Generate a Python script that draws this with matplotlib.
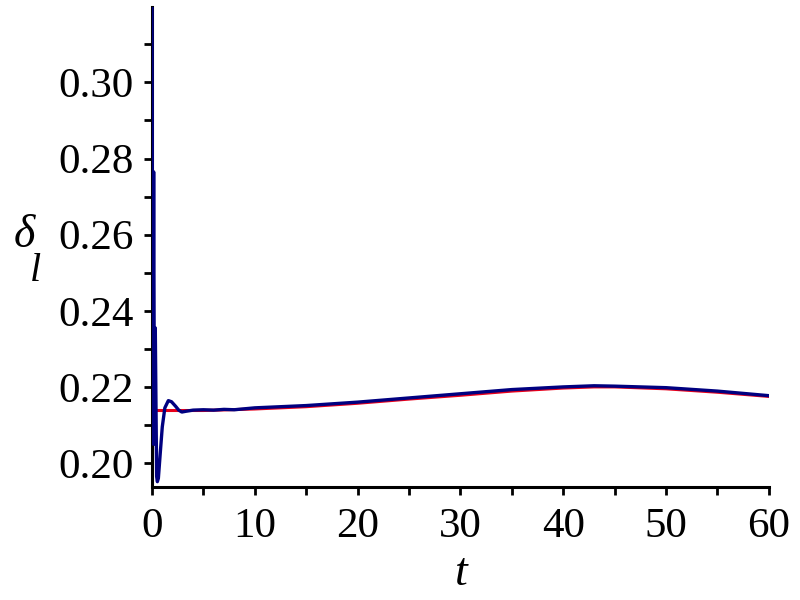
import matplotlib
matplotlib.use("Agg")
import matplotlib.pyplot as plt
from matplotlib.ticker import MultipleLocator, FormatStrFormatter

# Red curve (smooth reference)
t_red = [0, 5, 10, 15, 20, 25, 30, 35, 40, 43, 45, 50, 55, 60]
y_red = [0.2138, 0.2138, 0.2142, 0.2148, 0.2157, 0.2168, 0.2178, 0.2189, 0.2197,
         0.2200, 0.2200, 0.2195, 0.2186, 0.2175]

# Blue curve (with initial transient)
t_blue = [0, 0.08, 0.16, 0.24, 0.32, 0.45, 0.52, 0.62, 0.8, 1.0, 1.25, 1.59, 1.9,
          2.3, 2.6, 2.9, 3.3, 4, 5, 6, 7, 8,
          10, 15, 20, 25, 30, 35, 40, 43, 45, 50, 55, 60]
y_blue = [0.3195, 0.205, 0.2765, 0.205, 0.2355, 0.1965, 0.1951, 0.1960, 0.2025,
          0.2095, 0.2145, 0.2164, 0.2161, 0.2149, 0.2139, 0.2134, 0.2136, 0.2139,
          0.2140, 0.2139, 0.2141, 0.2140,
          0.2145, 0.2151, 0.2160, 0.2171, 0.2182, 0.2193, 0.2200, 0.2203, 0.2202,
          0.2198, 0.2189, 0.2177]

fig = plt.figure(figsize=(8, 6), dpi=100)
ax = fig.add_axes([0.19, 0.1883, 0.771, 0.80])

ax.plot(t_red, y_red, color="#e8001a", lw=2.2, zorder=2)
ax.plot(t_blue, y_blue, color="#000080", lw=2.4, zorder=3)

ax.set_xlim(0, 60)
ax.set_ylim(0.1937, 0.3198)

for s in ["top", "right"]:
    ax.spines[s].set_visible(False)
for s in ["left", "bottom"]:
    ax.spines[s].set_linewidth(2.2)
    ax.spines[s].set_color("black")

ax.xaxis.set_major_locator(MultipleLocator(10))
ax.xaxis.set_minor_locator(MultipleLocator(5))
ax.yaxis.set_major_locator(MultipleLocator(0.02))
ax.yaxis.set_minor_locator(MultipleLocator(0.01))
ax.yaxis.set_major_formatter(FormatStrFormatter("%.2f"))
ax.xaxis.set_major_formatter(FormatStrFormatter("%d"))

ax.tick_params(which="both", direction="out", length=6, width=2, color="black")
ax.tick_params(axis="y", which="major", labelsize=31, pad=7)
ax.tick_params(axis="x", which="major", labelsize=31, pad=9)
for lab in ax.get_xticklabels() + ax.get_yticklabels():
    lab.set_family("Liberation Serif")

fig.text(0.030, 0.607, "δ", fontsize=33, family="Liberation Serif", style="italic",
         ha="center", va="center")
fig.text(0.044, 0.547, "l", fontsize=29, family="Liberation Serif", style="italic",
         ha="center", va="center")
fig.text(0.577, 0.043, "t", fontsize=33, family="Liberation Serif", style="italic",
         ha="center", va="center")

fig.savefig("out.png", dpi=100)
